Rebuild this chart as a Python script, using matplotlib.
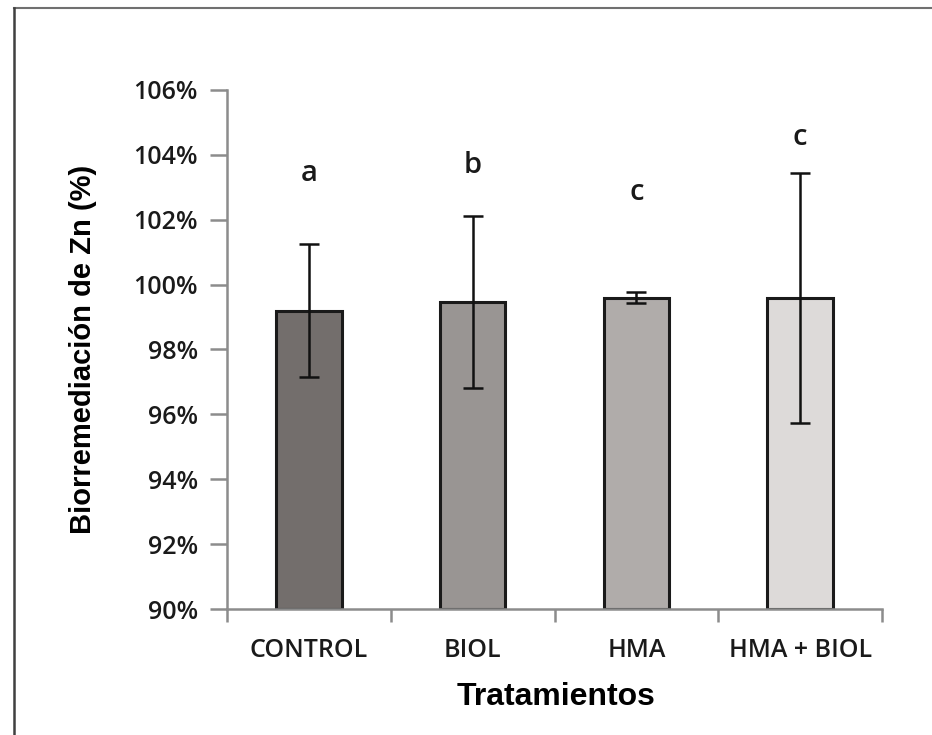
import numpy as np
import matplotlib
matplotlib.use("Agg")
import matplotlib.pyplot as plt
from matplotlib.ticker import FuncFormatter, FixedLocator
from matplotlib.lines import Line2D

# data
tratamientos = ["CONTROL", "BIOL", "HMA", "HMA + BIOL"]
biorremediacion = [99.19, 99.46, 99.59, 99.59]
error = [2.05, 2.65, 0.17, 3.86]
letras = ["a", "b", "c", "c"]
letra_y = [103.44, 103.66, 102.85, 104.55]
colores = ["#736e6c", "#999593", "#b0acaa", "#dddad9"]

fig = plt.figure(figsize=(9.32, 7.35), dpi=100)
ax = fig.add_axes([0.2436, 0.1714, 0.7028, 0.7062])

x = np.arange(len(tratamientos))
ax.bar(x, [v - 90 for v in biorremediacion], bottom=90, width=0.4,
       color=colores, edgecolor="#1a1a1a", linewidth=2.2, zorder=2)
ax.errorbar(x, biorremediacion, yerr=error, fmt="none", ecolor="#111111",
            elinewidth=1.8, capsize=7, capthick=1.8, zorder=3)

for xi, l, ly in zip(x, letras, letra_y):
    ax.text(xi, ly, l, ha="center", va="center", fontsize=21,
            family="Open Sans", fontweight="semibold", color="#1a1a1a")

ax.set_xlim(-0.5, 3.5)
ax.set_ylim(90, 106)
ax.set_yticks(np.arange(90, 107, 2))
ax.yaxis.set_major_formatter(FuncFormatter(lambda v, p: "%d%%" % v))

ax.set_xticks(x)
ax.set_xticklabels(tratamientos)
ax.xaxis.set_minor_locator(FixedLocator([-0.5, 0.5, 1.5, 2.5, 3.5]))
ax.tick_params(axis="x", which="major", length=0, pad=21)
ax.tick_params(axis="x", which="minor", length=9, width=1.8, color="#8c8c8c")
ax.tick_params(axis="y", length=12, width=1.8, color="#8c8c8c", pad=9)

for lab in ax.get_xticklabels() + ax.get_yticklabels():
    lab.set_family("Open Sans")
    lab.set_fontsize(18)
    lab.set_fontweight("semibold")
    lab.set_color("#1a1a1a")

for s in ["top", "right"]:
    ax.spines[s].set_visible(False)
for s in ["left", "bottom"]:
    ax.spines[s].set_color("#8c8c8c")
    ax.spines[s].set_linewidth(1.8)

ax.set_ylabel("Biorremediación de Zn (%)", fontsize=21, fontweight="bold",
              family="Liberation Sans")
ax.yaxis.set_label_coords(-0.198, 0.5)
ax.set_xlabel("Tratamientos", fontsize=23, fontweight="bold",
              family="Liberation Sans")
ax.xaxis.set_label_coords(0.502, -0.14)

# outer frame of the original figure
fig.add_artist(Line2D([14 / 932, 1], [1 - 8 / 735, 1 - 8 / 735],
                      transform=fig.transFigure, color="#707070", lw=1.5))
fig.add_artist(Line2D([14 / 932, 14 / 932], [0, 1 - 8 / 735],
                      transform=fig.transFigure, color="#404040", lw=1.8))

fig.savefig("out.png", dpi=100)
